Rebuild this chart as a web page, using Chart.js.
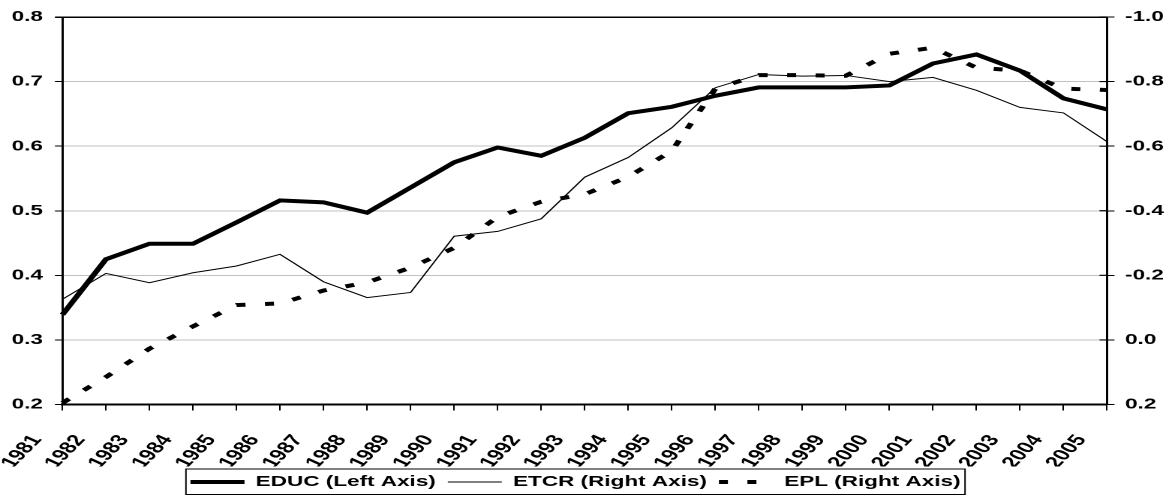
<!DOCTYPE html>
<html>
<head>
<meta charset="utf-8">
<script src="https://cdn.jsdelivr.net/npm/chart.js@4.4.1/dist/chart.umd.min.js"></script>
<style>
    html, body { margin: 0; padding: 0; background: #fff; overflow: hidden; }
    /* the original chart is stretched sideways, so the canvas is drawn narrow and widened */
    #wrap { width: 783px; height: 498px; transform: scaleX(1.5006); transform-origin: 0 0; }
</style>
</head>
<body>
<div id="wrap"><canvas id="educChart"></canvas></div>
<script>
const years = ['1981', '1982', '1983', '1984', '1985', '1986', '1987', '1988', '1989', '1990',
    '1991', '1992', '1993', '1994', '1995', '1996', '1997', '1998', '1999', '2000',
    '2001', '2002', '2003', '2004', '2005'];

// left axis
const educ = [0.339, 0.425, 0.449, 0.449, 0.482, 0.516, 0.513, 0.497, 0.536, 0.575,
    0.598, 0.585, 0.613, 0.651, 0.661, 0.678, 0.691, 0.691, 0.691, 0.694,
    0.728, 0.742, 0.717, 0.674, 0.657];

// right axis (reversed)
const etcr = [-0.126, -0.206, -0.177, -0.208, -0.229, -0.265, -0.180, -0.131, -0.147, -0.321,
    -0.336, -0.375, -0.504, -0.565, -0.657, -0.781, -0.822, -0.817, -0.819, -0.800,
    -0.813, -0.773, -0.720, -0.703, -0.614];
const epl = [0.195, 0.115, 0.027, -0.042, -0.108, -0.113, -0.153, -0.178, -0.224, -0.285,
    -0.381, -0.428, -0.451, -0.505, -0.585, -0.778, -0.820, -0.820, -0.818, -0.886,
    -0.905, -0.843, -0.834, -0.778, -0.774];

const leftMin = 0.2, leftMax = 0.8, leftStep = 0.1;
const rightMin = -1.0, rightMax = 0.2, rightStep = 0.2;

const fontFamily = "'Liberation Sans', Arial, sans-serif";
const tickFont = { family: fontFamily, size: 15, weight: 'bold' };

function fmt(v) {
    if (Math.abs(v) < 1e-9) v = 0;
    return v.toFixed(1);
}

// legend samples (so the dash shows) + box round the legend + ticks crossing the right axis
const extras = {
    id: 'extras',
    afterLayout(chart) {
        // the original legend sits a little left of centre
        chart.legend.left -= 8;
        chart.legend.right -= 8;
    },
    afterDraw(chart) {
        const ctx = chart.ctx;
        const legend = chart.legend;
        const boxes = legend.legendHitBoxes;
        const sampleW = legend.options.labels.pointStyleWidth;
        ctx.save();
        ctx.strokeStyle = '#000';
        let l = Infinity, r = -Infinity, t = Infinity, b = -Infinity;
        boxes.forEach((h, i) => {
            const ds = chart.data.datasets[i];
            const y = h.top + h.height / 2;
            ctx.lineWidth = ds.borderWidth;
            ctx.setLineDash(ds.borderDash || []);
            ctx.beginPath();
            ctx.moveTo(h.left, y);
            ctx.lineTo(h.left + sampleW, y);
            ctx.stroke();
            l = Math.min(l, h.left); r = Math.max(r, h.left + h.width);
            t = Math.min(t, h.top); b = Math.max(b, h.top + h.height);
        });
        ctx.setLineDash([]);
        ctx.lineWidth = 1;
        ctx.strokeRect(l - 3, t - 5.5, r - l + 6, b - t + 10.5);

        const yr = chart.scales.yRight;
        ctx.lineWidth = 1.2;
        ctx.beginPath();
        yr.ticks.forEach((tk, i) => {
            const py = yr.getPixelForTick(i);
            ctx.moveTo(yr.left - 5, py);
            ctx.lineTo(yr.left, py);
        });
        ctx.stroke();
        ctx.restore();
    }
};

const ctx = document.getElementById('educChart').getContext('2d');
const chart = new Chart(ctx, {
    type: 'line',
    data: {
        labels: years,
        datasets: [{
            label: 'EDUC (Left Axis)',
            data: educ,
            yAxisID: 'yLeft',
            borderColor: '#000',
            backgroundColor: '#000',
            borderWidth: 4,
            pointRadius: 0,
            tension: 0
        }, {
            label: 'ETCR (Right Axis)',
            data: etcr,
            yAxisID: 'yRight',
            borderColor: '#000',
            backgroundColor: '#000',
            borderWidth: 1,
            pointRadius: 0,
            tension: 0
        }, {
            label: 'EPL (Right Axis)',
            data: epl,
            yAxisID: 'yRight',
            borderColor: '#000',
            backgroundColor: '#000',
            borderWidth: 4,
            borderDash: [6, 13],
            pointRadius: 0,
            tension: 0
        }]
    },
    options: {
        responsive: true,
        maintainAspectRatio: false,
        animation: false,
        devicePixelRatio: 2,
        layout: { padding: { top: 14, bottom: -1.5, left: 0, right: 0 } },
        plugins: {
            legend: {
                position: 'bottom',
                labels: {
                    usePointStyle: true,
                    pointStyle: 'line',
                    pointStyleWidth: 36,
                    padding: 8,
                    color: '#000',
                    font: { family: fontFamily, size: 15, weight: 'bold' },
                    generateLabels(chart) {
                        const items = Chart.defaults.plugins.legend.labels.generateLabels(chart);
                        items.forEach(it => { it.strokeStyle = 'rgba(0,0,0,0)'; it.fillStyle = 'rgba(0,0,0,0)'; });
                        return items;
                    }
                }
            },
            tooltip: { enabled: false }
        },
        scales: {
            x: {
                grid: { display: true, drawOnChartArea: false, color: '#000', tickLength: 6 },
                border: { color: '#000', width: 2 },
                ticks: {
                    color: '#000',
                    font: { family: fontFamily, size: 16, weight: 'bold' },
                    autoSkip: false,
                    minRotation: 56,
                    maxRotation: 56,
                    labelOffset: -17,
                    padding: 21
                },
                afterFit(scale) { scale.height = 62; }
            },
            yLeft: {
                position: 'left',
                min: leftMin,
                max: leftMax,
                grid: {
                    color: c => (c.tick && Math.abs(c.tick.value - leftMax) < 1e-9) ? '#000' : '#c0c0c0',
                    lineWidth: c => (c.tick && Math.abs(c.tick.value - leftMax) < 1e-9) ? 1.5 : 1,
                    tickColor: '#000',
                    tickLength: 5
                },
                border: { color: '#000', width: 1.5 },
                ticks: { stepSize: leftStep, color: '#000', font: tickFont, padding: 8, callback: v => fmt(v) },
                afterFit(scale) { scale.width = 41.6; }
            },
            yRight: {
                position: 'right',
                min: rightMin,
                max: rightMax,
                reverse: true,
                grid: { drawOnChartArea: false, color: '#000', tickLength: 5 },
                border: { color: '#000', width: 1.5 },
                ticks: { stepSize: rightStep, color: '#000', font: tickFont, padding: 7, callback: v => fmt(v) },
                afterFit(scale) { scale.width = 45.3; }
            }
        }
    },
    plugins: [extras]
});
</script>
</body>
</html>
